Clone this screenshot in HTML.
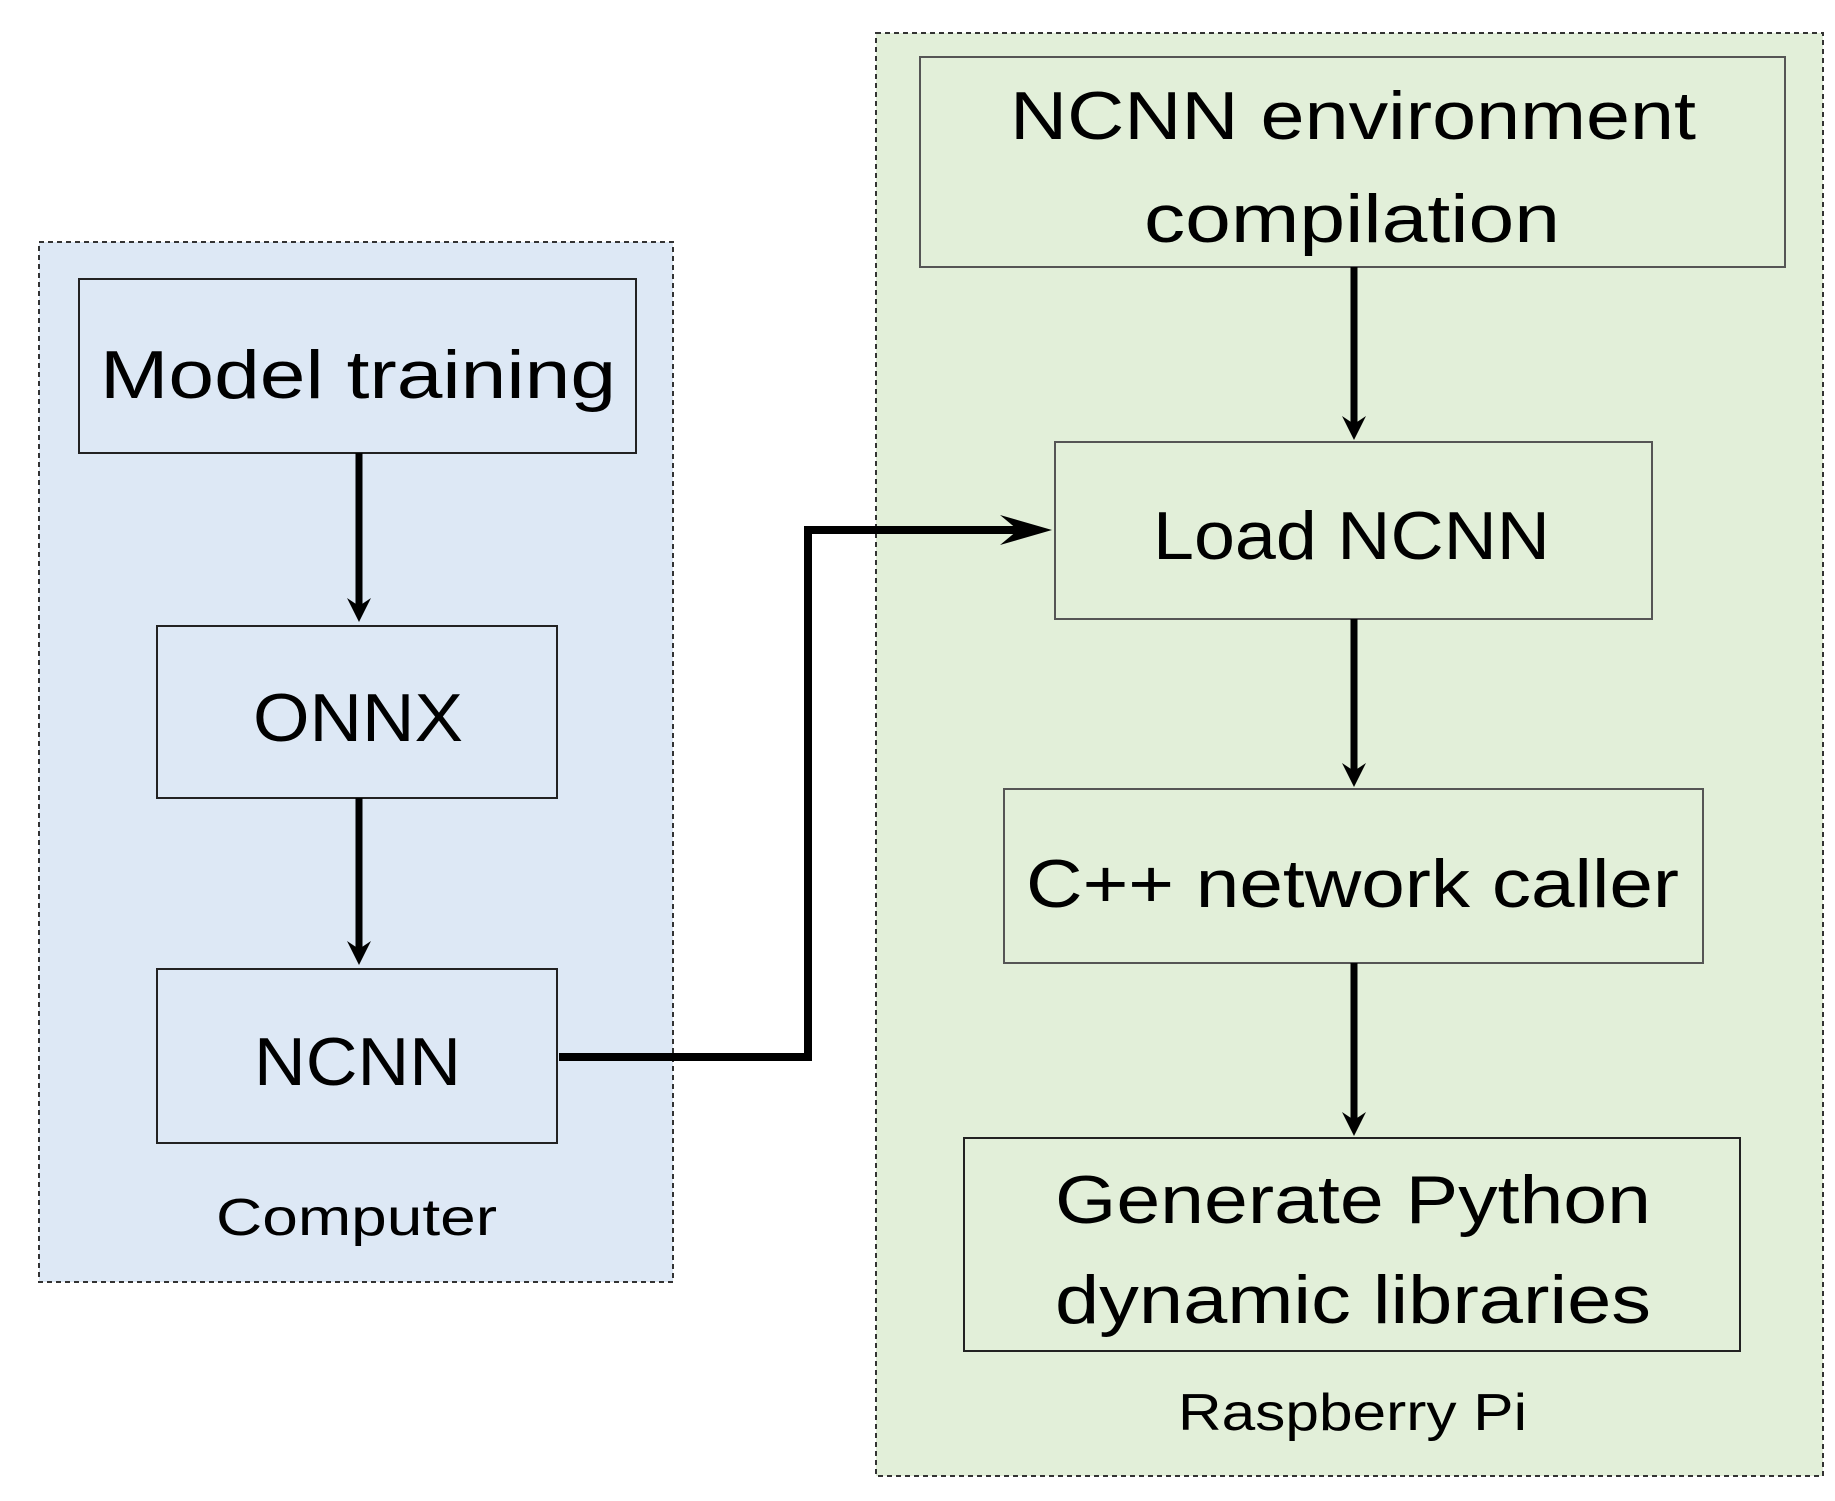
<!DOCTYPE html>
<html><head><meta charset="utf-8"><style>html,body{margin:0;padding:0;background:#fff}</style></head>
<body>
<svg width="1835" height="1496" viewBox="0 0 1835 1496" xmlns="http://www.w3.org/2000/svg" font-family="Liberation Sans, sans-serif">
<rect x="39" y="242" width="634" height="1040" fill="#dde8f5" stroke="#333" stroke-width="2" stroke-dasharray="5,4"/>
<rect x="876" y="33" width="947" height="1443" fill="#e2efd9" stroke="#333" stroke-width="2" stroke-dasharray="5,4"/>

<rect x="79" y="279" width="557" height="174" fill="#dde8f5" stroke="#222" stroke-width="2"/>
<rect x="157" y="626" width="400" height="172" fill="#dde8f5" stroke="#222" stroke-width="2"/>
<rect x="157" y="969" width="400" height="174" fill="#dde8f5" stroke="#222" stroke-width="2"/>

<rect x="920" y="57" width="865" height="210" fill="#e2efd9" stroke="#555" stroke-width="2"/>
<rect x="1055" y="442" width="597" height="177" fill="#e2efd9" stroke="#555" stroke-width="2"/>
<rect x="1004" y="789" width="699" height="174" fill="#e2efd9" stroke="#555" stroke-width="2"/>
<rect x="964" y="1138" width="776" height="213" fill="#e2efd9" stroke="#222" stroke-width="2"/>

<g stroke="#000" stroke-width="7" fill="none">
<line x1="359" y1="453" x2="359" y2="610"/>
<line x1="359" y1="798" x2="359" y2="953"/>
<line x1="1354" y1="267" x2="1354" y2="426"/>
<line x1="1354" y1="619" x2="1354" y2="773"/>
<line x1="1354" y1="963" x2="1354" y2="1122"/>
<polyline points="559,1057 808,1057 808,530 1030,530" stroke-width="8"/>
</g>
<g fill="#000">
<path d="M359,622 L347,598 L359,606 L371,598 Z"/>
<path d="M359,965 L347,941 L359,949 L371,941 Z"/>
<path d="M1354,440 L1342,416 L1354,424 L1366,416 Z"/>
<path d="M1354,787 L1342,763 L1354,771 L1366,763 Z"/>
<path d="M1354,1136 L1342,1112 L1354,1120 L1366,1112 Z"/>
<path d="M1052,530 L1000,515 L1018,530 L1000,545 Z"/>
</g>

<g fill="#000" font-size="68">
<text x="100" y="398" textLength="516" lengthAdjust="spacingAndGlyphs">Model training</text>
<text x="253" y="741" textLength="210" lengthAdjust="spacingAndGlyphs">ONNX</text>
<text x="254" y="1085" textLength="207" lengthAdjust="spacingAndGlyphs">NCNN</text>
<text x="1010" y="139" textLength="686" lengthAdjust="spacingAndGlyphs">NCNN environment</text>
<text x="1144" y="242" textLength="416" lengthAdjust="spacingAndGlyphs">compilation</text>
<text x="1153" y="559" textLength="397" lengthAdjust="spacingAndGlyphs">Load NCNN</text>
<text x="1026" y="907" textLength="653" lengthAdjust="spacingAndGlyphs">C++ network caller</text>
<text x="1055" y="1223" textLength="596" lengthAdjust="spacingAndGlyphs">Generate Python</text>
<text x="1055" y="1323" textLength="596" lengthAdjust="spacingAndGlyphs">dynamic libraries</text>
</g>
<g fill="#000" font-size="52">
<text x="216" y="1235" textLength="281" lengthAdjust="spacingAndGlyphs">Computer</text>
<text x="1178" y="1430" textLength="349" lengthAdjust="spacingAndGlyphs">Raspberry Pi</text>
</g>
</svg>
</body></html>
